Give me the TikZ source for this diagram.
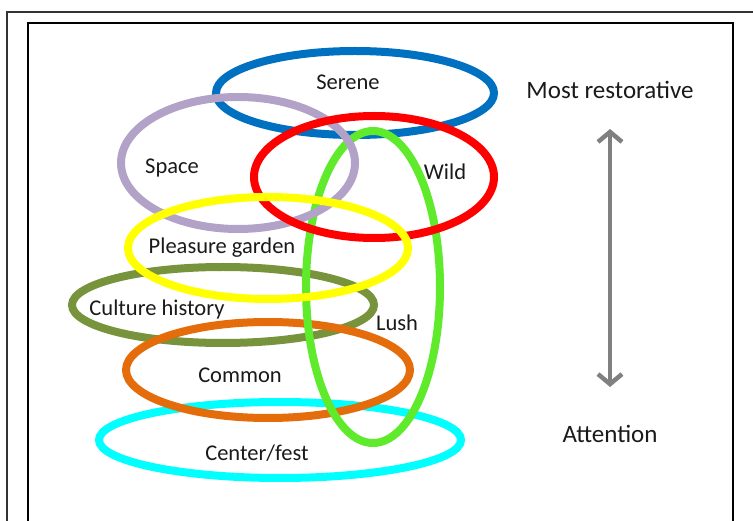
\documentclass[tikz,border=0pt]{standalone}
\usepackage{fontspec}
\setmainfont{Carlito}
\usetikzlibrary{arrows.meta}
\definecolor{cblue}{HTML}{0070C0}
\definecolor{clav}{HTML}{B3A2C7}
\definecolor{cred}{HTML}{FF0000}
\definecolor{cgreen}{HTML}{5FEA2C}
\definecolor{cyel}{HTML}{FFFF00}
\definecolor{colive}{HTML}{77933C}
\definecolor{corange}{HTML}{E46C0A}
\definecolor{ccyan}{HTML}{00FFFF}
\definecolor{carrow}{HTML}{808080}
\definecolor{ctext}{HTML}{1A1A1A}
\tikzset{
  ring/.style={line width=8pt},
  lbl/.style={font=\fontsize{22.5}{26}\selectfont, text=ctext, inner sep=0pt},
  sidelbl/.style={font=\fontsize{25}{28}\selectfont, text=ctext, inner sep=0pt},
}
\begin{document}
\begin{tikzpicture}[x=1pt,y=-1pt]
\useasboundingbox (0,0) rectangle (753,521);
\begin{scope}
\clip (0,0) rectangle (753,521);
\draw[line width=2pt, draw=black!80] (7,12) rectangle (770,540);
\draw[line width=2pt, draw=black] (27.5,23.5) rectangle (733,540);
\end{scope}
% ellipses
\draw[ring, cblue] (355,93) ellipse [x radius=139, y radius=42];
\draw[ring, colive] (223,305) ellipse [x radius=151, y radius=38];
\draw[ring, ccyan] (280,440) ellipse [x radius=181, y radius=38];
\draw[ring, corange] (268,370) ellipse [x radius=142, y radius=48];
\draw[ring, cgreen] (373,287) ellipse [x radius=67, y radius=156];
\draw[ring, clav] (238,163) ellipse [x radius=117, y radius=66];
\draw[ring, cred] (374,177) ellipse [x radius=120, y radius=61];
\draw[ring, cyel] (268,248) ellipse [x radius=140, y radius=51];
% labels
\node[lbl] (serene) at (348,82) {Serene};
\node[lbl] (space) at (172,168) {Space};
\node[lbl] (wild) at (445,172) {Wild};
\node[lbl] (pleasure) at (222,248) {Pleasure garden};
\node[lbl] (culture) at (157,310) {Culture history};
\node[lbl] (lush) at (397,323) {Lush};
\node[lbl] (common) at (240,375) {Common};
\node[lbl] (center) at (257,453) {Center/fest};
\node[sidelbl] (most) at (610,90) {Most restorative};
\node[sidelbl] (attn) at (610,434) {Attention};
\coordinate (atop) at (610,129);
\coordinate (abot) at (610,387);
\draw[line width=4.5pt, carrow, {Straight Barb[length=10pt,width=24pt]}-{Straight Barb[length=10pt,width=24pt]}] (atop) -- (abot);
\end{tikzpicture}
\end{document}
